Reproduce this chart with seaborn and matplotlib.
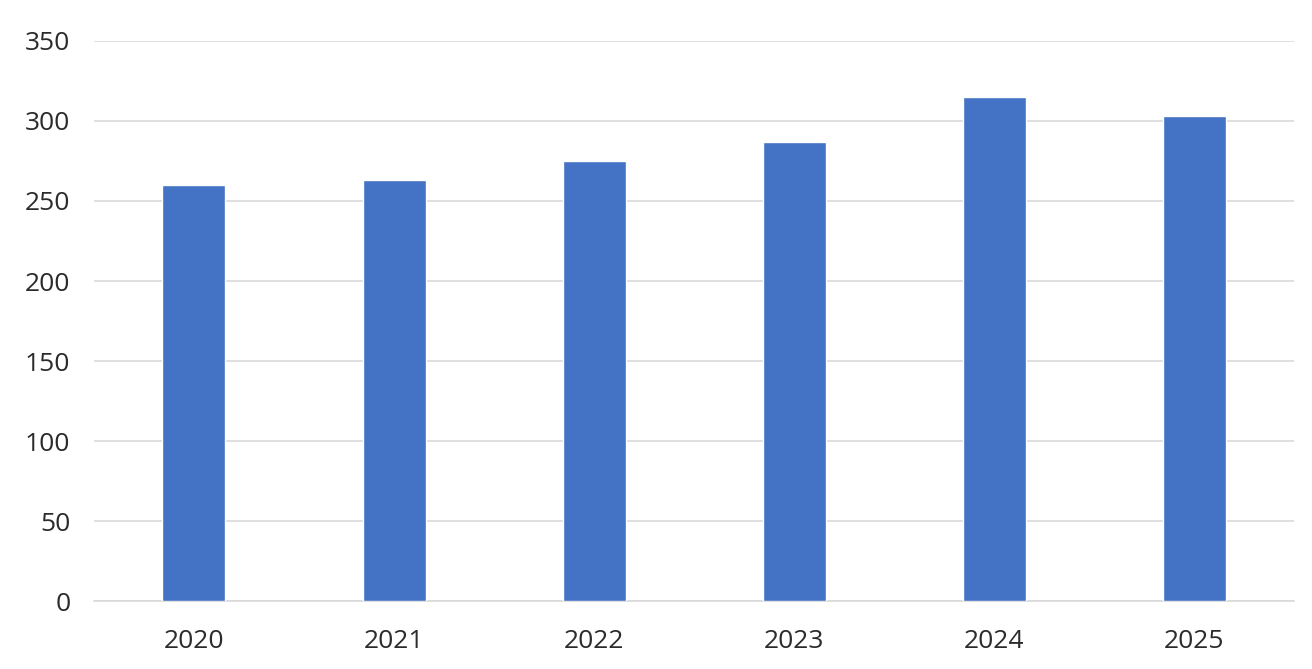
import pandas as pd
import matplotlib.pyplot as plt
import seaborn as sns

# -------- DATA --------
years = ["2020", "2021", "2022", "2023", "2024", "2025"]
counts = [260, 263, 275, 287, 315, 303]

df = pd.DataFrame({"Year": years, "Count": counts})

# -------- SETTINGS --------
sns.set_theme(style="white")
plt.rcParams["font.family"] = ["Open Sans", "DejaVu Sans"]

fig = plt.figure(figsize=(13.12, 6.69), dpi=100)
ax = fig.add_axes([0.0716, 0.101, 0.915, 0.838])

sns.barplot(data=df, x="Year", y="Count", color="#4472C4",
            saturation=1, width=0.315, ax=ax, zorder=3)

ax.set_ylim(0, 350)
ax.set_yticks(range(0, 351, 50))
ax.yaxis.grid(True, color="#D9D9D9", linewidth=1.2, zorder=0)
ax.set_axisbelow(True)
for side in ["top", "right", "left"]:
    ax.spines[side].set_visible(False)
ax.spines["bottom"].set_color("#D9D9D9")
ax.spines["bottom"].set_linewidth(1.2)

ax.set_xlabel("")
ax.set_ylabel("")
ax.tick_params(axis="both", length=0, labelsize=19, colors="#2b2b2b")
ax.tick_params(axis="x", pad=20)
ax.tick_params(axis="y", pad=17)

fig.savefig("out.png", dpi=100)
